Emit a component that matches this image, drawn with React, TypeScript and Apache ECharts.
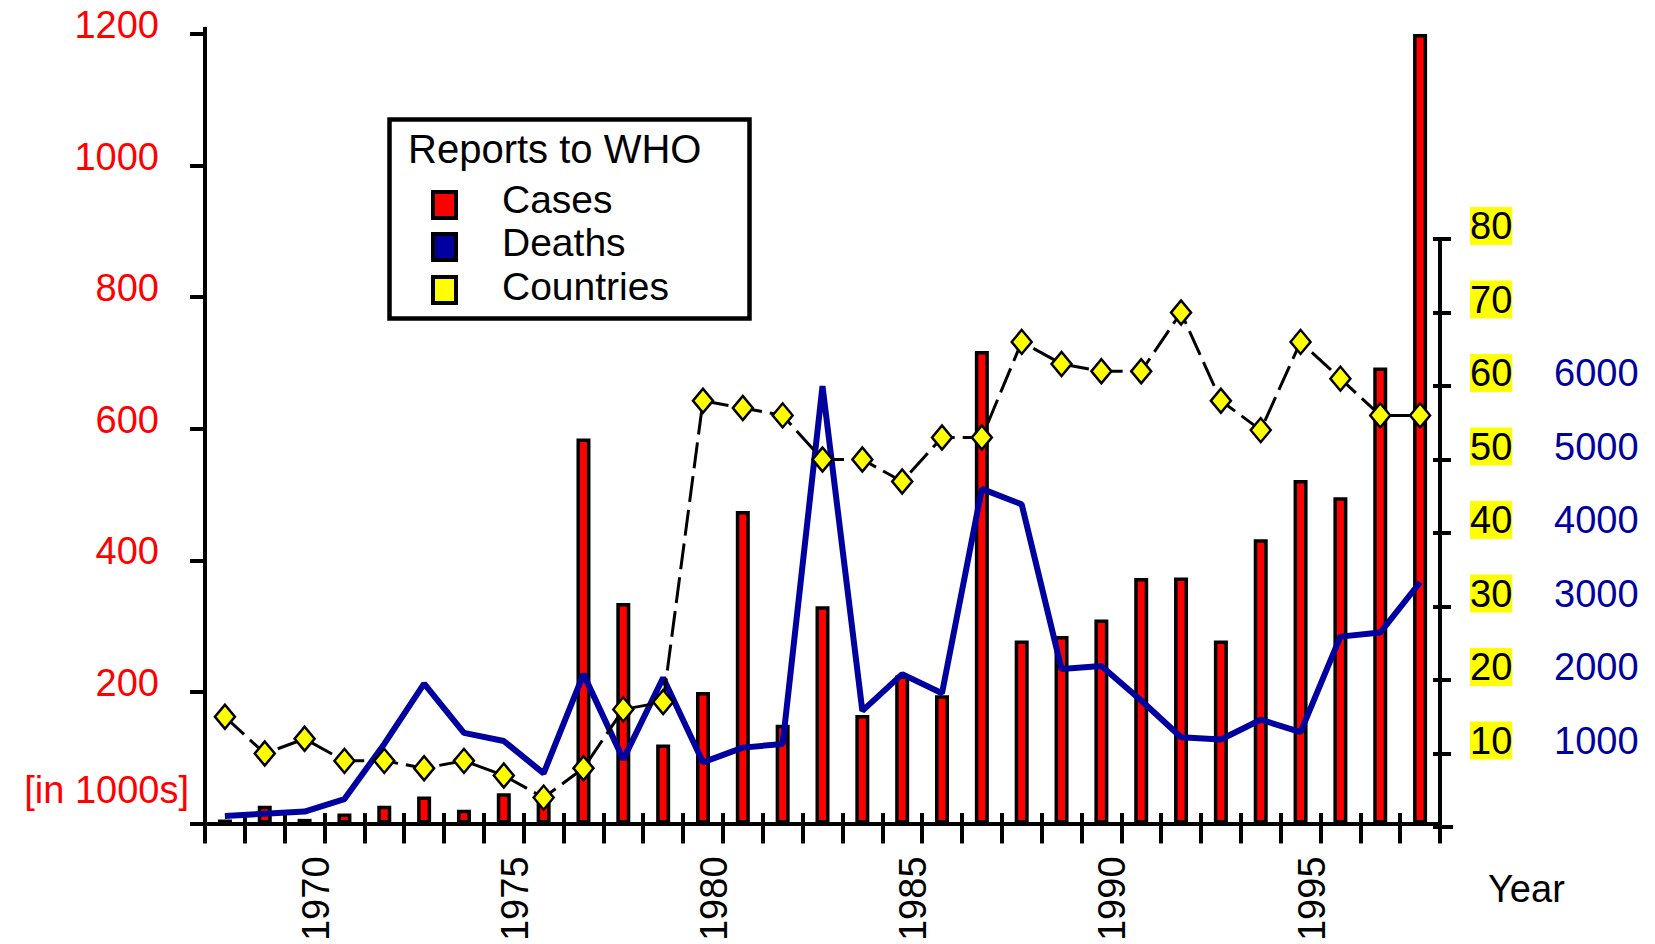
import React, { useEffect, useRef } from "react";
import * as echarts from "echarts";

// ---- data ----
const years = [
  "1968", "1969", "1970", "1971", "1972", "1973", "1974", "1975", "1976", "1977",
  "1978", "1979", "1980", "1981", "1982", "1983", "1984", "1985", "1986", "1987",
  "1988", "1989", "1990", "1991", "1992", "1993", "1994", "1995", "1996", "1997", "1998",
];
const yearLabels = ["1970", "1975", "1980", "1985", "1990", "1995"];

// Cases, in 1000s
const cases = [
  6, 27, 7, 15, 27, 41, 21, 46, 45, 585,
  335, 120, 200, 475, 150, 330, 165, 225, 195, 718,
  278, 285, 310, 373, 374, 278, 432, 522, 496, 693, 1200,
];
// Deaths
const deaths = [
  150, 180, 210, 380, 1130, 1950, 1280, 1170, 730, 2080,
  920, 2030, 880, 1080, 1130, 6000, 1580, 2080, 1820, 4600,
  4390, 2150, 2190, 1720, 1220, 1190, 1460, 1290, 2590, 2645, 3330,
];
// Countries reporting
const countries = [
  15, 10, 12, 9, 9, 8, 9, 7, 4, 8,
  16, 17, 58, 57, 56, 50, 50, 47, 53, 53,
  66, 63, 62, 62, 70, 58, 54, 66, 61, 56, 56,
];

const casesTicks = [200, 400, 600, 800, 1000, 1200];
const countriesTicks = [10, 20, 30, 40, 50, 60, 70, 80];
const deathsTicks = [1000, 2000, 3000, 4000, 5000, 6000];

const legendTitle = "Reports to WHO";
const legendNames = ["Cases", "Deaths", "Countries"];

const FONT = '"Liberation Sans", Arial, Helvetica, sans-serif';
const RED = "#ff0000";
const BLUE = "#0000a0";
const YELLOW = "#ffff00";
const BLACK = "#000000";
const legendColors = [RED, BLUE, YELLOW];

export default function App() {
  const ref = useRef<HTMLDivElement>(null);

  useEffect(() => {
    if (!ref.current) return;
    const chart = echarts.init(ref.current, null, { renderer: "svg" });

    const iconTops = [192, 234, 277];
    const textMids = [199.5, 242.5, 286];
    const legendGraphics: any[] = [];
    legendNames.forEach((name, i) => {
      legendGraphics.push({
        type: "rect",
        shape: { x: 433, y: iconTops[i], width: 23, height: 26 },
        style: { fill: legendColors[i], stroke: BLACK, lineWidth: 4 },
        z: 10,
      });
      legendGraphics.push({
        type: "text",
        x: 502,
        y: textMids[i],
        style: {
          text: name,
          fill: BLACK,
          fontSize: 39,
          fontFamily: FONT,
          align: "left",
          verticalAlign: "middle",
        },
        z: 10,
      });
    });

    const option: any = {
      animation: false,
      backgroundColor: "#ffffff",
      textStyle: { fontFamily: FONT },
      grid: [
        { left: 205, right: 215, top: 34, bottom: 117 },
        { left: 205, right: 215, top: 239, bottom: 117 },
      ],
      xAxis: [
        {
          type: "category",
          gridIndex: 0,
          data: years,
          boundaryGap: true,
          axisLine: { show: true, lineStyle: { color: BLACK, width: 4 } },
          axisTick: { show: true, interval: 0, length: 20, lineStyle: { color: BLACK, width: 4 } },
          axisLabel: {
            interval: (_i: number, v: string) => yearLabels.includes(v),
            formatter: (v: string) => `{x|${v}}`,
            rotate: 90,
            margin: 33,
            fontSize: 38,
            color: BLACK,
            fontFamily: FONT,
            padding: [22, 0, 0, 0],
            rich: {
              x: { fontSize: 38, color: BLACK, fontFamily: FONT },
            },
          },
          splitLine: { show: false },
        },
        {
          type: "category",
          gridIndex: 1,
          data: years,
          boundaryGap: true,
          axisLine: { show: false },
          axisTick: { show: true, inside: true, interval: 0, length: 14, lineStyle: { color: BLACK, width: 4 } },
          axisLabel: { show: false },
          splitLine: { show: false },
        },
      ],
      yAxis: [
        {
          type: "value",
          gridIndex: 0,
          min: 0,
          max: 1200,
          interval: 200,
          axisLine: { show: true, lineStyle: { color: BLACK, width: 4 } },
          axisTick: { show: true, length: 15, lineStyle: { color: BLACK, width: 4 } },
          axisLabel: {
            formatter: (v: number) => (casesTicks.includes(v) ? `{c|${v}}` : ""),
            color: RED,
            fontSize: 38,
            fontFamily: FONT,
            margin: 46,
            padding: [0, 0, 18, 0],
            rich: {
              c: { color: RED, fontSize: 38, fontFamily: FONT },
            },
          },
          splitLine: { show: false },
        },
        {
          type: "value",
          gridIndex: 1,
          position: "right",
          min: 0,
          max: 80,
          interval: 10,
          axisLine: { show: true, lineStyle: { color: BLACK, width: 4 } },
          axisTick: { show: true, length: 11, lineStyle: { color: BLACK, width: 4 } },
          axisLabel: {
            formatter: (v: number) => (countriesTicks.includes(v) ? `{y|${v}}` : ""),
            margin: 30,
            fontSize: 38,
            color: BLACK,
            fontFamily: FONT,
            padding: [0, 0, 26, 0],
            rich: {
              y: {
                backgroundColor: YELLOW,
                color: BLACK,
                fontSize: 38,
                lineHeight: 47,
                fontFamily: FONT,
              },
            },
          },
          splitLine: { show: false },
        },
        {
          type: "value",
          gridIndex: 1,
          position: "right",
          min: 0,
          max: 8000,
          interval: 1000,
          axisLine: { show: false },
          axisTick: { show: true, inside: true, length: 7, lineStyle: { color: BLACK, width: 4 } },
          axisLabel: {
            formatter: (v: number) => (deathsTicks.includes(v) ? `{d|${v}}` : ""),
            margin: 114,
            fontSize: 38,
            color: BLUE,
            fontFamily: FONT,
            padding: [0, 0, 26, 0],
            rich: {
              d: { color: BLUE, fontSize: 38, fontFamily: FONT },
            },
          },
          splitLine: { show: false },
        },
      ],
      series: [
        {
          name: legendNames[0],
          type: "bar",
          xAxisIndex: 0,
          yAxisIndex: 0,
          data: cases,
          barWidth: 14,
          itemStyle: { color: RED, borderColor: BLACK, borderWidth: 3.5 },
          z: 2,
        },
        {
          name: legendNames[1],
          type: "line",
          xAxisIndex: 1,
          yAxisIndex: 2,
          data: deaths,
          symbol: "none",
          lineStyle: { color: BLUE, width: 6 },
          itemStyle: { color: BLUE },
          z: 3,
        },
        {
          name: legendNames[2],
          type: "line",
          xAxisIndex: 1,
          yAxisIndex: 1,
          data: countries,
          symbol: "diamond",
          symbolSize: [20, 24],
          showAllSymbol: true,
          lineStyle: { color: BLACK, width: 3, type: [26, 8] },
          itemStyle: { color: YELLOW, borderColor: BLACK, borderWidth: 2.5 },
          z: 4,
        },
      ],
      graphic: [
        {
          type: "rect",
          shape: { x: 389.5, y: 119.5, width: 360, height: 199 },
          style: { fill: "none", stroke: BLACK, lineWidth: 4.5 },
          z: 10,
        },
        {
          type: "text",
          x: 408,
          y: 148.5,
          style: {
            text: legendTitle,
            fill: BLACK,
            fontSize: 40,
            fontFamily: FONT,
            align: "left",
            verticalAlign: "middle",
          },
          z: 10,
        },
        ...legendGraphics,
        {
          type: "text",
          x: 189,
          y: 790,
          style: {
            text: "[in 1000s]",
            fill: RED,
            fontSize: 38,
            fontFamily: FONT,
            align: "right",
            verticalAlign: "middle",
          },
          z: 10,
        },
        {
          type: "text",
          x: 1488,
          y: 889,
          style: {
            text: "Year",
            fill: BLACK,
            fontSize: 38,
            fontFamily: FONT,
            align: "left",
            verticalAlign: "middle",
          },
          z: 10,
        },
        {
          type: "line",
          shape: { x1: 1436, y1: 827, x2: 1453, y2: 827 },
          style: { stroke: BLACK, lineWidth: 4 },
          z: 10,
        },
        {
          type: "line",
          shape: { x1: 205, y1: 36, x2: 205, y2: 27 },
          style: { stroke: BLACK, lineWidth: 4 },
          z: 10,
        },
      ],
    };

    chart.setOption(option);
    return () => chart.dispose();
  }, []);

  return (
    <div
      ref={ref}
      style={{ position: "absolute", left: 0, top: 0, width: 1655, height: 944, background: "#ffffff" }}
    />
  );
}
